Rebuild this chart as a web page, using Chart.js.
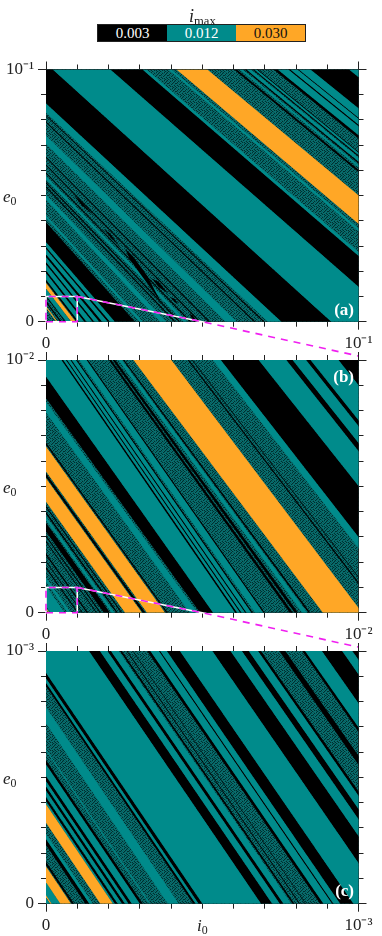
<!DOCTYPE html>
<html>
<head>
<meta charset="utf-8">
<script src="https://cdn.jsdelivr.net/npm/chart.js@4/dist/chart.umd.min.js"></script>
<style>
  body { margin: 0; background: #fff; font-family: 'Liberation Serif', serif; color: #222; }
  #page { position: relative; width: 382px; height: 936px; overflow: hidden; }
  canvas { position: absolute; left: 0; top: 0; }
  .txt { position: absolute; z-index: 5; white-space: nowrap; line-height: 1; }
  .txt sub { font-size: 0.7em; vertical-align: -0.25em; line-height: 0; }
  .tag { color: #fff; font-weight: bold; font-size: 17px; right: 28px; }
  #legend { position: absolute; left: 97px; top: 24px; width: 209px; height: 18px; display: flex; border: 1px solid #222; box-sizing: border-box; z-index: 5; }
  #legend div { flex: 1; text-align: center; font-size: 15px; line-height: 16px; }
</style>
</head>
<body>
<div id="page">
  <div class="txt" style="left:189px;top:7px;font-size:18px"><i>i</i><sub>max</sub></div>
  <div id="legend">
    <div style="background:#000;color:#fff">0.003</div>
    <div style="background:#008b8b;color:#fff">0.012</div>
    <div style="background:#ffa726;color:#111">0.030</div>
  </div>
  <div class="txt" style="left:3px;top:188px;font-size:17px"><i>e</i><sub>0</sub></div>
  <div class="txt" style="left:3px;top:479px;font-size:17px"><i>e</i><sub>0</sub></div>
  <div class="txt" style="left:3px;top:770px;font-size:17px"><i>e</i><sub>0</sub></div>
  <div class="txt" style="left:197px;top:917px;font-size:17px"><i>i</i><sub>0</sub></div>
  <div class="txt tag" style="top:301px">(a)</div>
  <div class="txt tag" style="top:368px">(b)</div>
  <div class="txt tag" style="top:882px">(c)</div>
</div>
<script>
// tick positions, as a fraction of the axis range
const tickFractions = [0, 0.1, 0.2, 0.3, 0.4, 0.5, 0.6, 0.7, 0.8, 0.9, 1];
const tickEnds = [0, 1];

// every band runs from an edge crossing e0 = 0 at i0 = A (fraction of the axis)
// with a slope that changes slowly with A
const aSlopeAt = [0, 0.09, 0.22, 0.4, 0.75, 1.13, 1.37, 1.5, 1.8, 2.2];
const aSlope = [1.72, 1.62, 1.43, 1.3, 1.15, 1.085, 1.05, 1.03, 1.0, 1.0];
const aBlack = [[0.045, 0.05], [0.06, 0.063], [0.098, 0.105], [0.122, 0.13], [0.148, 0.155], [0.17, 0.18], [0.197, 0.205], [0.22, 0.285],
  [0.41, 0.415], [0.425, 0.43], [0.46, 0.465], [0.49, 0.495], [0.52, 0.525], [0.665, 0.67], [0.695, 0.7], [0.753, 0.913], [1.127, 1.245],
  [1.58, 1.59], [1.617, 1.623], [1.645, 1.65], [1.66, 1.665], [1.72, 1.735], [1.772, 1.78], [1.804, 1.809], [1.846, 1.97]];
const aTeal = [[0.065, 0.08], [0.105, 0.122], [0.13, 0.148], [0.155, 0.17], [0.18, 0.197], [0.205, 0.22], [0.3, 0.31], [0.365, 0.385], [0.44, 0.452],
  [0.575, 0.61], [0.71, 0.753], [0.913, 1.127], [1.245, 1.26], [1.34, 1.352], [1.6, 1.61], [1.625, 1.64], [1.652, 1.66],
  [1.735, 1.772], [1.78, 1.804], [1.809, 1.846], [1.97, 2.2]];
const aOrange = [[0.033, 0.037], [0.081, 0.095], [1.37, 1.485]];
// small cusps in panel (a), fraction of axis [i0, e0]
const aWedgeTeal = [[[0.19, 0.373], [0.3014, 0.217], [0.2535, 0.283]]];
const aFingers = [
  [[0.2535, 0.2896], [0.28, 0.2566], [0.3227, 0.184], [0.3707, 0.0716], [0.344, 0.118], [0.3014, 0.1906], [0.2674, 0.25]],
  [[0.184, 0.369], [0.2056, 0.349], [0.2375, 0.296], [0.2056, 0.336]],
  [[0.0884, 0.501], [0.1097, 0.481], [0.1523, 0.422], [0.115, 0.461]],
  [[0.339, 0.171], [0.36, 0.158], [0.392, 0.1113], [0.36, 0.138]],
  [[0.397, 0.098], [0.412, 0.09], [0.424, 0.07], [0.41, 0.08]],
  [[0.459, 0.032], [0.47, 0.025], [0.483, 0], [0.472, 0]]
];

const bSlopeAt = [0, 0.5, 0.6, 0.75, 0.886, 1, 1.3, 1.65];
const bSlope = [1.75, 1.72, 1.8, 1.75, 1.65, 1.64, 1.56, 1.55];
const bBlack = [[0.1, 0.104], [0.115, 0.118], [0.13, 0.135], [0.16, 0.163], [0.172, 0.176], [0.185, 0.205], [0.225, 0.23], [0.24, 0.244], [0.31, 0.318], [0.385, 0.39], [0.493, 0.535],
  [0.605, 0.612], [0.621, 0.626], [0.637, 0.642], [0.657, 0.662], [0.695, 0.7], [0.78, 0.79], [0.796, 0.807], [0.84, 0.846],
  [1.07, 1.075], [1.085, 1.088], [1.188, 1.322], [1.411, 1.432], [1.475, 1.49], [1.58, 1.7]];
const bTeal = [[0.015, 0.06], [0.07, 0.08], [0.21, 0.22], [0.46, 0.485], [0.535, 0.605], [0.612, 0.621], [0.626, 0.637], [0.642, 0.657], [0.669, 0.695],
  [0.82, 0.836], [1.16, 1.188], [1.322, 1.411], [1.432, 1.475], [1.49, 1.58]];
const bOrange = [[0.008, 0.011], [0.253, 0.307], [0.323, 0.381], [0.886, 1.012]];

const cSlopeAt = [0, 1, 1.6];
const cSlope = [1.85, 1.8, 1.75];
const cBlack = [[0.083, 0.09], [0.126, 0.139], [0.221, 0.229], [0.243, 0.253], [0.264, 0.275], [0.3, 0.31], [0.471, 0.479], [0.488, 0.501],
  [0.688, 0.724], [0.748, 0.76], [0.789, 0.795], [0.81, 0.813], [0.83, 0.832], [0.877, 0.888], [0.915, 0.92], [0.941, 0.984],
  [1.09, 1.15], [1.187, 1.21], [1.24, 1.25], [1.31, 1.33], [1.385, 1.395], [1.45, 1.517], [1.55, 1.7]];
const cTeal = [[0, 0.012], [0.018, 0.046], [0.139, 0.15], [0.214, 0.22], [0.23, 0.243], [0.253, 0.264], [0.275, 0.3], [0.33, 0.334], [0.39, 0.425],
  [0.479, 0.488], [0.501, 0.688], [0.724, 0.748], [0.76, 0.785], [0.888, 0.915], [0.92, 0.941], [0.984, 1.09], [1.15, 1.187], [1.21, 1.24],
  [1.395, 1.45], [1.517, 1.55]];
const cOrange = [[0.014, 0.018], [0.046, 0.08], [0.174, 0.214]];

// zoom outline and the line that leads to the next panel, fraction of axis
const zoomBoxX = [0, 0.1, 0.1, 0, 0];
const zoomBoxY = [0, 0, 0.1, 0.1, 0];
const zoomTailX = [0.1, 0.5, 1];
const zoomTailY = [0.1, 0, -0.136];

const TEAL = '#008b8b', ORANGE = '#ffa726', BLACK = '#000', MAGENTA = '#f01ff0';

function denseTexture() {
  const rows = ['21120210', '12011201', '20212012', '01120120', '21201211', '10122102', '22010210', '01221012'];
  const tones = ['#002f2f', '#056060', '#0a7070'];
  const c = document.createElement('canvas');
  c.width = c.height = 8;
  const g = c.getContext('2d');
  rows.forEach((row, y) => [...row].forEach((bit, x) => {
    g.fillStyle = tones[+bit];
    g.fillRect(x, y, 1, 1);
  }));
  return g.createPattern(c, 'repeat');
}

function slopeFor(A, at, values) {
  for (let k = 1; k < at.length; k++) {
    if (A <= at[k]) {
      return values[k - 1] + (values[k] - values[k - 1]) * (A - at[k - 1]) / (at[k] - at[k - 1]);
    }
  }
  return values[values.length - 1];
}

function polygon(points, max, color) {
  return {
    data: points.map(p => ({ x: p[0] * max, y: p[1] * max })),
    showLine: true, fill: 'shape', backgroundColor: color,
    borderWidth: 0, pointRadius: 0, tension: 0,
  };
}

function bandPolygon(band, panel, max, color) {
  const s0 = slopeFor(band[0], panel.slopeAt, panel.slope);
  const s1 = slopeFor(band[1], panel.slopeAt, panel.slope);
  return polygon([[band[0], 0], [band[0] - 1 / s0, 1], [band[1] - 1 / s1, 1], [band[1], 0]], max, color);
}

// room: height or width kept for tick labels; only the labelled axes have any
function axis(position, max, length, fractions, label, room) {
  const horizontal = position === 'top' || position === 'bottom';
  return {
    type: 'linear', position, min: 0, max, weight: label ? 1 : 0,
    afterBuildTicks: s => { s.ticks = fractions.map(f => ({ value: f * max })); },
    afterFit: s => { if (horizontal) s.height = room || 0; else s.width = room || 0; },
    grid: { drawOnChartArea: false, drawTicks: true, tickLength: length, tickColor: '#222', tickWidth: 1 },
    border: { color: '#222', width: 1 },
    ticks: {
      display: !!label, autoSkip: false, maxTicksLimit: 20, maxRotation: 0, minRotation: 0, color: '#222', padding: 4,
      font: { family: "'Liberation Serif', serif", size: 17 },
      // an undefined label would drop the tick mark as well
      callback: v => (v === 0 ? '0' : label || ''),
    },
  };
}

function drawPanel(panel, texture) {
  const max = panel.max;
  const sets = [polygon([[0, 0], [1, 0], [1, 1], [0, 1]], max, texture)];
  panel.black.forEach(b => sets.push(bandPolygon(b, panel, max, BLACK)));
  panel.teal.forEach(b => sets.push(bandPolygon(b, panel, max, TEAL)));
  panel.orange.forEach(b => sets.push(bandPolygon(b, panel, max, ORANGE)));
  (panel.wedges || []).forEach(p => sets.push(polygon(p, max, TEAL)));
  (panel.fingers || []).forEach(p => sets.push(polygon(p, max, BLACK)));
  if (panel.zoom) {
    [[zoomBoxX, zoomBoxY], [zoomTailX, zoomTailY]].forEach(([xs, ys]) => {
      const line = { data: xs.map((x, k) => ({ x: x * max, y: ys[k] * max })), showLine: true, pointRadius: 0, tension: 0, clip: false, fill: false };
      sets.push({ ...line, borderColor: '#fff', borderWidth: 1.6 });
      sets.push({ ...line, borderColor: MAGENTA, borderWidth: 1.6, borderDash: [7, 6] });
    });
  }
  // later datasets go on top
  sets.forEach((d, k) => { d.order = -k; });

  const canvas = document.createElement('canvas');
  canvas.width = 382;
  canvas.height = 936;
  canvas.style.width = '382px';
  canvas.style.height = '936px';
  document.getElementById('page').appendChild(canvas);

  new Chart(canvas, {
    type: 'scatter',
    data: { datasets: sets },
    options: {
      responsive: false, animation: false, events: [],
      layout: { padding: { left: 0, right: 382 - 358.5, top: panel.top, bottom: 936 - panel.bottom - 30 } },
      plugins: { legend: { display: false }, tooltip: { enabled: false } },
      scales: {
        x: axis('bottom', max, 8, tickEnds, panel.label, 30),
        y: axis('left', max, 8, tickEnds, panel.label, 46),
        xTop: axis('top', max, 8, tickEnds),
        yRight: axis('right', max, 8, tickEnds),
        xMinor: axis('bottom', max, 5, tickFractions),
        yMinor: axis('left', max, 5, tickFractions),
        xTopMinor: axis('top', max, 5, tickFractions),
        yRightMinor: axis('right', max, 5, tickFractions),
      },
    },
  });
}

const texture = denseTexture();
drawPanel({ max: 1e-1, label: '10⁻¹', top: 69.5, bottom: 321.7, slopeAt: aSlopeAt, slope: aSlope, black: aBlack, teal: aTeal, orange: aOrange,
  wedges: aWedgeTeal, fingers: aFingers, zoom: true }, texture);
drawPanel({ max: 1e-2, label: '10⁻²', top: 360, bottom: 612.7, slopeAt: bSlopeAt, slope: bSlope, black: bBlack, teal: bTeal, orange: bOrange, zoom: true }, texture);
drawPanel({ max: 1e-3, label: '10⁻³', top: 651, bottom: 903.7, slopeAt: cSlopeAt, slope: cSlope, black: cBlack, teal: cTeal, orange: cOrange }, texture);
</script>
</body>
</html>
